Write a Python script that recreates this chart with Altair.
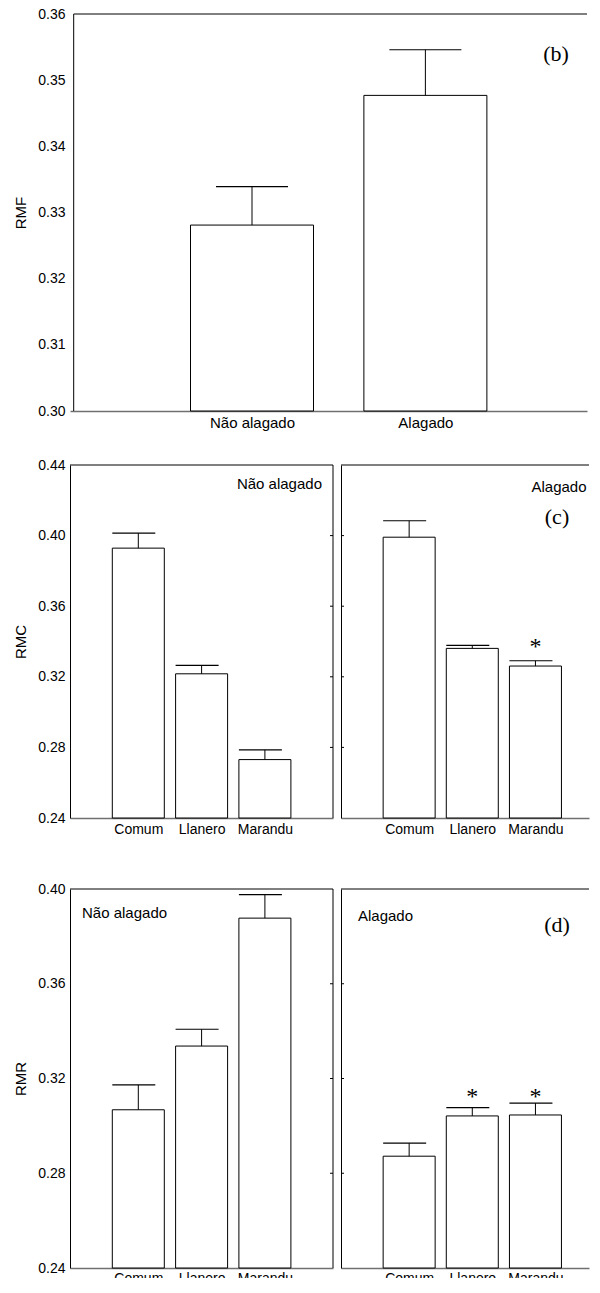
import altair as alt
import pandas as pd

# ---------------- data ----------------
# Panel (b): RMF by flooding condition
rmf_cats = ["Não alagado", "Alagado"]
rmf_mean = [0.3281, 0.3477]
rmf_upper = [0.3339, 0.3546]
rmf_ticks = [0.30, 0.31, 0.32, 0.33, 0.34, 0.35, 0.36]

# Panels (c) and (d): cultivars
cultivars = ["Comum", "Llanero", "Marandu"]

rmc_nao_mean = [0.3929, 0.3217, 0.2731]
rmc_nao_upper = [0.4014, 0.3265, 0.2786]
rmc_ala_mean = [0.3991, 0.3361, 0.3261]
rmc_ala_upper = [0.4084, 0.3378, 0.3291]
rmc_ala_star = ["", "", "*"]
rmc_star_level = 0.3395
rmc_ticks = [0.24, 0.28, 0.32, 0.36, 0.40, 0.44]

rmr_nao_mean = [0.3068, 0.3337, 0.3877]
rmr_nao_upper = [0.3173, 0.3408, 0.3976]
rmr_ala_mean = [0.2872, 0.3042, 0.3046]
rmr_ala_upper = [0.2927, 0.3077, 0.3096]
rmr_ala_star = ["", "*", "*"]
rmr_star_level = 0.3145
rmr_ticks = [0.24, 0.28, 0.32, 0.36, 0.40]

SANS = "Liberation Sans"
SERIF = "Liberation Serif"


def panel(cats, mean, upper, ydom, yticks, width, height, xdom,
          bar_w, cap_l, cap_r, ytitle=None, ylabels=True, ylabpad=5,
          xlabsize=14, xlabpad=4, stars=None, star_level=None, notes=(),
          right_border=False, in_ticks=None, left_x=0):
    n = len(cats)
    df = pd.DataFrame({
        "pos": list(range(1, n + 1)),
        "mean": mean,
        "upper": upper,
        "base": [ydom[0]] * n,
    })
    if stars is not None:
        df["star"] = stars
        df["slev"] = [star_level] * n

    arr = "[" + ",".join("'" + c + "'" for c in cats) + "]"
    xaxis = alt.Axis(values=list(range(1, n + 1)), labelExpr=arr + "[datum.value-1]",
                     title=None, ticks=False, grid=False, domain=True,
                     domainColor="#707070", domainWidth=1.5,
                     labelFontSize=xlabsize, labelPadding=xlabpad, labelFont=SANS,
                     labelColor="black", labelFlush=False)
    xscale = alt.Scale(domain=xdom, nice=False, zero=False)
    yaxis = alt.Axis(values=yticks, format=".2f", ticks=False, grid=False,
                     domain=(left_x == 0), domainColor="black", domainWidth=1,
                     labels=ylabels, labelFontSize=14, labelFont=SANS,
                     labelColor="black", labelPadding=ylabpad,
                     title=ytitle, titleFont=SANS, titleFontSize=15,
                     titleFontWeight="normal", titleColor="black",
                     titlePadding=9)
    yscale = alt.Scale(domain=ydom, nice=False, zero=False)

    def X(f):
        return alt.X(f, scale=xscale, axis=xaxis)

    def Y(f):
        return alt.Y(f, scale=yscale, axis=yaxis)

    base = alt.Chart(df)
    bars = base.mark_bar(width=bar_w, fill="white", stroke="black",
                         strokeWidth=1).encode(x=X("pos:Q"), y=Y("mean:Q"),
                                               y2="base:Q")
    stems = base.mark_rule(color="black", strokeWidth=1).encode(
        x=X("pos:Q"), y=Y("mean:Q"), y2="upper:Q")
    caps = base.mark_rule(color="black", strokeWidth=1.2, xOffset=-cap_l,
                          x2Offset=cap_r).encode(
        x=X("pos:Q"), x2="pos:Q", y=Y("upper:Q"))
    layers = [bars, stems, caps]

    if stars is not None:
        layers.append(base.mark_text(font=SERIF, fontSize=24, color="black",
                                     baseline="middle", dy=5).encode(
            x=X("pos:Q"), y=Y("slev:Q"), text="star:N"))

    one = alt.Chart(pd.DataFrame({"k": [0]}))
    # frame: top border (and left border when the axis line is shifted)
    layers.append(one.mark_rule(color="black", strokeWidth=1).encode(
        x=alt.value(left_x), x2=alt.value(width), y=alt.value(0)))
    if left_x:
        layers.append(one.mark_rule(color="black", strokeWidth=1).encode(
            x=alt.value(left_x), y=alt.value(0), y2=alt.value(height)))
    if right_border:
        layers.append(one.mark_rule(color="black", strokeWidth=1).encode(
            x=alt.value(width), y=alt.value(0), y2=alt.value(height)))
    if in_ticks is not None:
        side, tick_vals = in_ticks
        tdf = pd.DataFrame({"v": tick_vals})
        if side == "right":
            xa, xb = width - 3, width
        else:
            xa, xb = 0, 3
        layers.append(alt.Chart(tdf).mark_rule(color="black").encode(
            y=Y("v:Q"), x=alt.value(xa), x2=alt.value(xb)))

    for txt, px, py, font, size, align in notes:
        layers.append(alt.Chart(pd.DataFrame({"t": [txt]})).mark_text(
            font=font, fontSize=size, color="black", align=align,
            baseline="middle").encode(x=alt.value(px), y=alt.value(py),
                                      text="t:N"))

    return alt.layer(*layers).properties(width=width, height=height)


H1, H2, H3 = 397, 353, 379
STEP1 = 176.8
STEP2 = 65.8
W1, WL, WR = 517, 263, 248

p_b = panel(rmf_cats, rmf_mean, rmf_upper, [0.30, 0.36], rmf_ticks,
            W1, H1, [-3.7 / STEP1, (W1 - 3.7) / STEP1], 123, 36, 36,
            ytitle="RMF", ylabpad=5, xlabsize=15, left_x=3.7,
            notes=[("(b)", 486, 40, SERIF, 22, "center")])

inner_c = [0.28, 0.32, 0.36, 0.40]
p_c1 = panel(cultivars, rmc_nao_mean, rmc_nao_upper, [0.24, 0.44], rmc_ticks,
             WL, H2, [0, WL / STEP2], 52, 26, 17, ytitle="RMC",
             notes=[("Não alagado", 252, 19, SANS, 15, "right")],
             right_border=True, in_ticks=("right", inner_c))
p_c2 = panel(cultivars, rmc_ala_mean, rmc_ala_upper, [0.24, 0.44], rmc_ticks,
             WR, H2, [0, WR / STEP2], 52, 26, 17, ylabels=False,
             stars=rmc_ala_star, star_level=rmc_star_level,
             notes=[("Alagado", 218, 22, SANS, 15, "center"),
                    ("(c)", 216, 52, SERIF, 22, "center")],
             in_ticks=("left", inner_c))

inner_d = [0.28, 0.32, 0.36]
p_d1 = panel(cultivars, rmr_nao_mean, rmr_nao_upper, [0.24, 0.40], rmr_ticks,
             WL, H3, [0, WL / STEP2], 52, 26, 17, ytitle="RMR", xlabpad=3,
             notes=[("Não alagado", 12, 24, SANS, 15, "left")],
             right_border=True, in_ticks=("right", inner_d))
p_d2 = panel(cultivars, rmr_ala_mean, rmr_ala_upper, [0.24, 0.40], rmr_ticks,
             WR, H3, [0, WR / STEP2], 52, 26, 17, ylabels=False, xlabpad=3,
             stars=rmr_ala_star, star_level=rmr_star_level,
             notes=[("Alagado", 17, 27, SANS, 15, "left"),
                    ("(d)", 216, 36, SERIF, 22, "center")],
             in_ticks=("left", inner_d))

row2 = alt.hconcat(p_c1, p_c2, spacing=6)
row3 = alt.hconcat(p_d1, p_d2, spacing=6)

chart = alt.vconcat(
    p_b,
    alt.vconcat(row2, row3, spacing=46),
    spacing=28,
).properties(
    padding={"left": 5, "top": -1, "right": 0, "bottom": -7},
    background="white",
).configure_view(stroke=None)

chart.save("out.html", embed_options={"renderer": "svg", "actions": False})
